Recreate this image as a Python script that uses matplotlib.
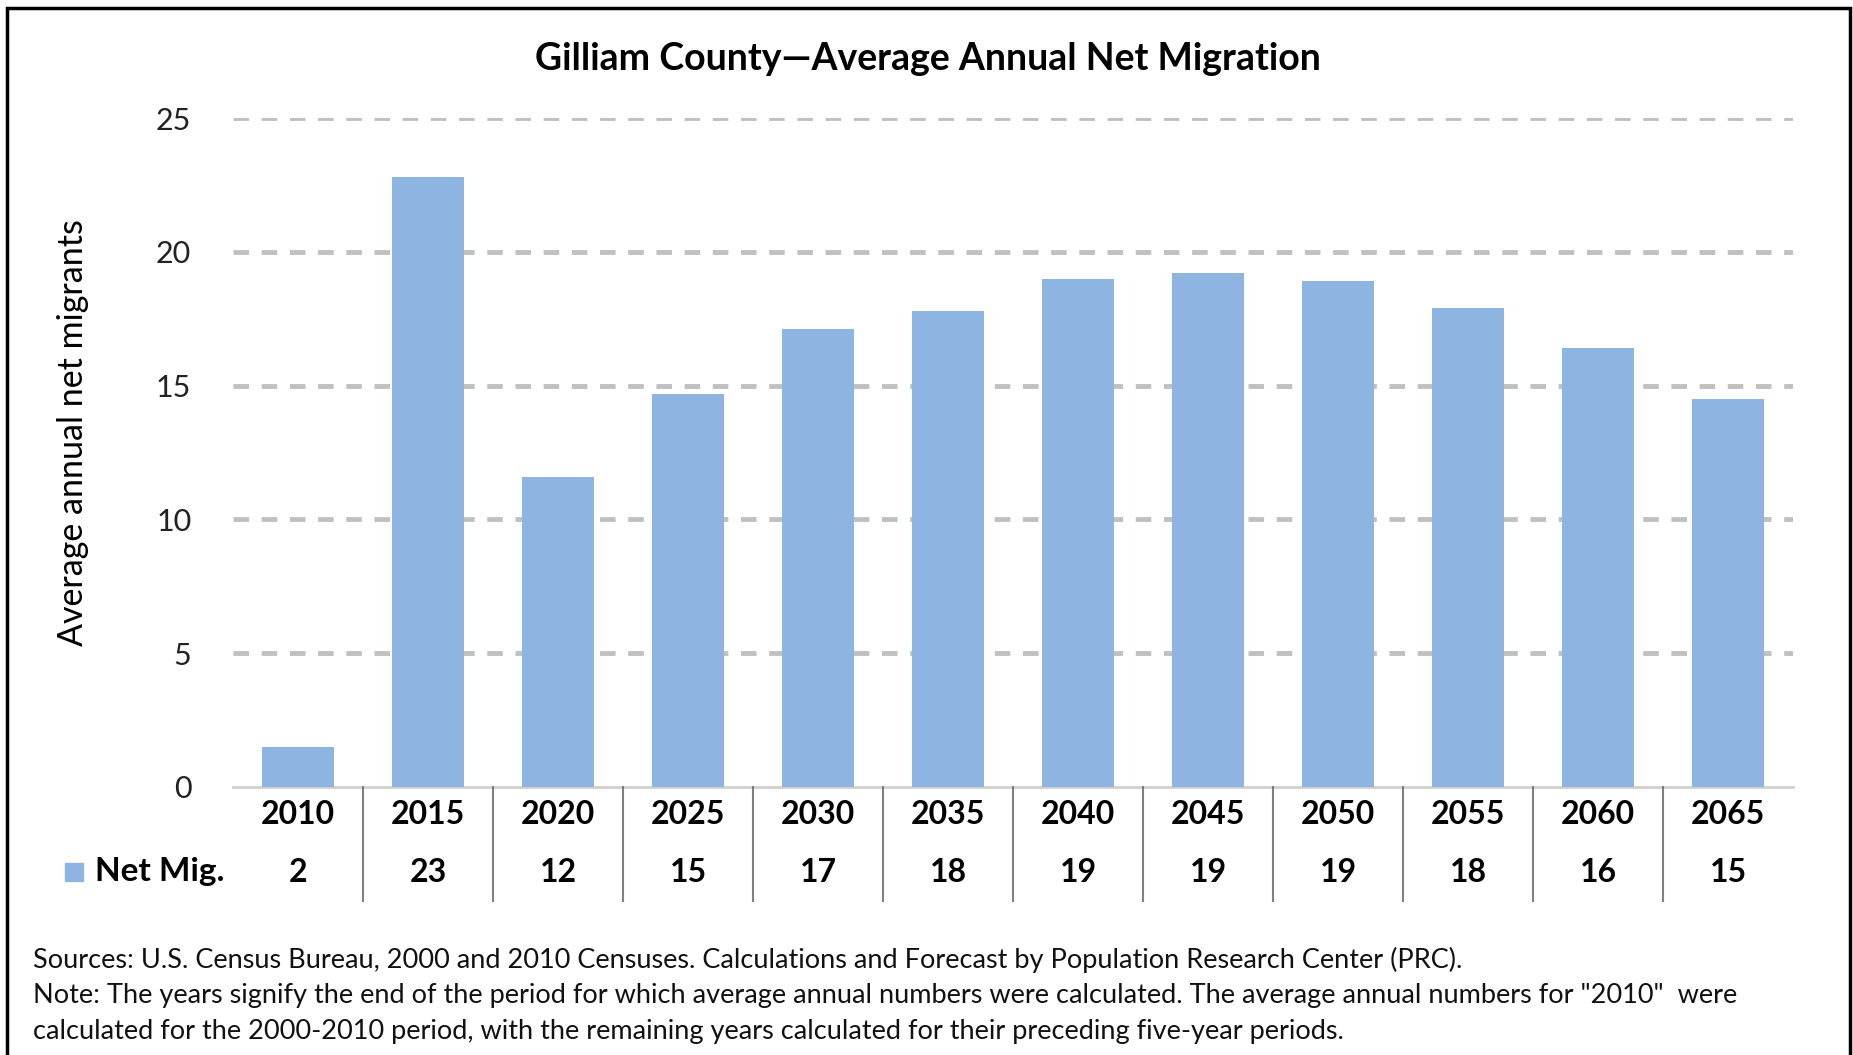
import numpy as np
import matplotlib.pyplot as plt
from matplotlib.patches import Rectangle
from matplotlib.lines import Line2D
import matplotlib.transforms as mtransforms

plt.rcParams['font.family'] = ['Lato', 'DejaVu Sans']

years = ["2010", "2015", "2020", "2025", "2030", "2035", "2040", "2045", "2050", "2055", "2060", "2065"]
net_mig = [1.5, 22.8, 11.6, 14.7, 17.1, 17.8, 19.0, 19.2, 18.9, 17.9, 16.4, 14.5]
table_vals = ["2", "23", "12", "15", "17", "18", "19", "19", "19", "18", "16", "15"]
yticks = [0, 5, 10, 15, 20, 25]

bar_color = "#8eb4e1"

W, H = 1853, 1055
fig = plt.figure(figsize=(W / 100, H / 100), dpi=100)
ax = fig.add_axes([233 / W, 1 - 787 / H, 1560 / W, 669 / H])

x = np.arange(len(years))
ax.bar(x, net_mig, width=0.56, color=bar_color, zorder=3)
ax.set_xlim(-0.5, len(years) - 0.5)
ax.set_ylim(0, 25)
ax.set_yticks(yticks)
ax.set_yticklabels([str(t) for t in yticks], fontsize=22, color="#222222")
ax.tick_params(axis="y", length=0, pad=30)
ax.set_xticks([])
for y in yticks[1:]:
    ax.axhline(y, color="#c0c0c0", lw=3.5, ls=(0, (3.2, 2.6)), zorder=1)
for s in ["top", "right", "left"]:
    ax.spines[s].set_visible(False)
ax.spines["bottom"].set_color("#d0d0d0")
ax.spines["bottom"].set_linewidth(2)
ax.set_ylabel("Average annual net migrants", fontsize=24.5)
ax.yaxis.set_label_coords(-0.092, 0.53)

# data table under the axis
trans = mtransforms.blended_transform_factory(ax.transData, fig.transFigure)
for i in range(len(years)):
    ax.text(x[i], 1 - 814 / H, years[i], transform=trans, ha="center", va="center",
            fontsize=23, fontweight="bold")
    ax.text(x[i], 1 - 872 / H, table_vals[i], transform=trans, ha="center", va="center",
            fontsize=23, fontweight="bold")
for i in range(len(years) - 1):
    fig.add_artist(Line2D([x[i] + 0.5, x[i] + 0.5], [1 - 787 / H, 1 - 901 / H], transform=trans,
                          color="#808080", lw=1.5))
fig.add_artist(Rectangle((65 / W, 1 - 881 / H), 18 / W, 18 / H, transform=fig.transFigure,
                         color=bar_color))
fig.text(95 / W, 1 - 872 / H, "Net Mig.", fontsize=24, fontweight="bold", va="center")

fig.text(928 / W, 1 - 59 / H, "Gilliam County\u2014Average Annual Net Migration",
         fontsize=27, fontweight="bold", ha="center", va="center")

notes = [
    "Sources: U.S. Census Bureau, 2000 and 2010 Censuses. Calculations and Forecast by Population Research Center (PRC).",
    "Note: The years signify the end of the period for which average annual numbers were calculated. The average annual numbers for \"2010\"  were",
    "calculated for the 2000-2010 period, with the remaining years calculated for their preceding five-year periods.",
]
for k, line in enumerate(notes):
    fig.text(33 / W, 1 - (960 + 36 * k) / H, line, fontsize=19.5, va="center", color="#111111")

fig.add_artist(Rectangle((7 / W, -0.02), 1843 / W, 1.02 - 8 / H, transform=fig.transFigure,
                         fill=False, edgecolor="black", lw=2.5))

fig.savefig("out.png", dpi=100)
